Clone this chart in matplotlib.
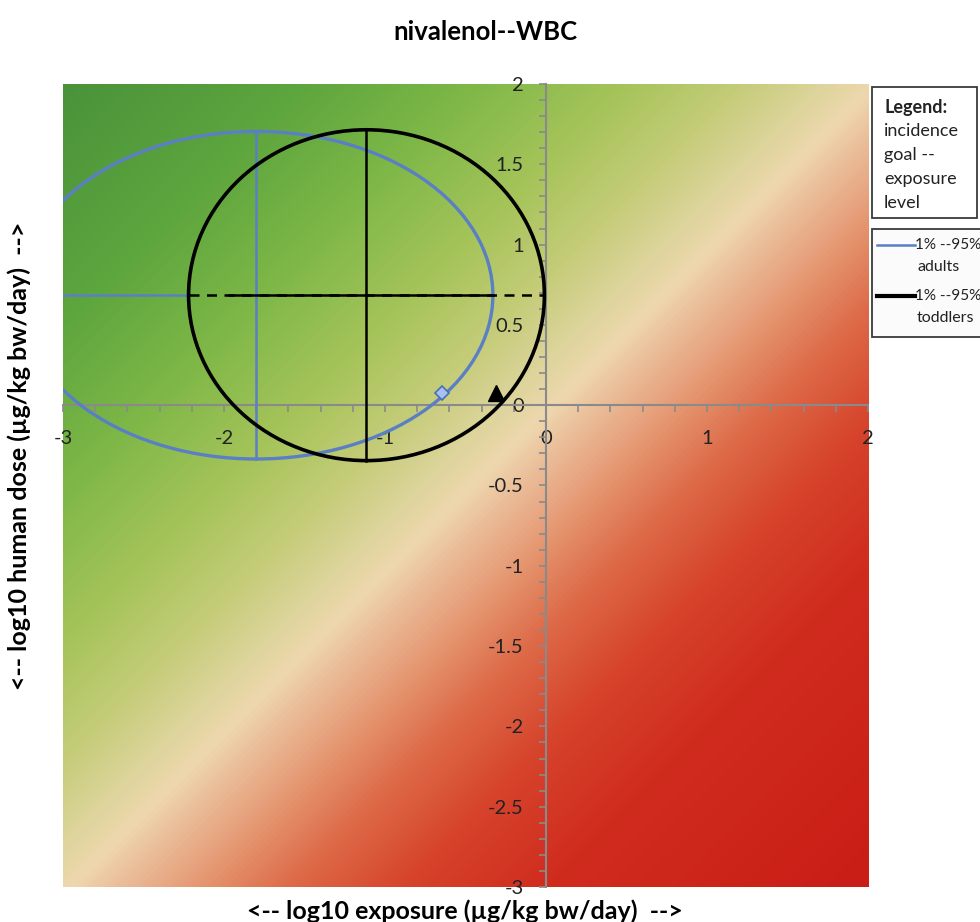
import matplotlib
matplotlib.use('Agg')
import matplotlib.pyplot as plt
import numpy as np
from matplotlib.patches import Ellipse, Rectangle
from matplotlib.lines import Line2D
from matplotlib.colors import LinearSegmentedColormap
from matplotlib.ticker import MultipleLocator, FormatStrFormatter

plt.rcParams['font.family'] = ['Lato', 'DejaVu Sans']
plt.rcParams['axes.unicode_minus'] = False

# 1% / median / 95% on each axis (log10 units)
adults_x = [-3.27, -1.80, -0.33]
adults_y = [-0.335, 0.685, 1.705]
toddlers_x = [-2.22, -1.115, -0.01]
toddlers_y = [-0.345, 0.685, 1.715]
# part of the toddlers' horizontal line drawn solid
toddlers_solid_x = [-1.97, -0.33]

# point estimates
adults_point = [-0.648, 0.073]
toddlers_point = [-0.31, 0.075]

# background shading against (exposure - dose)
shade_d = [-5, -3.5, -2.5, -1.5, -0.8, -0.3, 0.05, 0.4, 0.9, 1.4, 2.1, 3, 5]
shade_colors = ['#4a933a', '#5ea63e', '#7db747', '#a6c45a', '#c4cc78', '#dcd49a',
                '#eed7ae', '#eab895', '#e4926c', '#dd6a48', '#d6442c', '#d02c1e', '#c91d16']

x_ticks = [-3, -2, -1, 0, 1, 2]
y_ticks = [-3, -2.5, -2, -1.5, -1, -0.5, 0, 0.5, 1, 1.5, 2]

legend_title = 'Legend:'
legend_note = ['incidence', 'goal --', 'exposure', 'level']
series_labels = [('1% --95%', 'adults'), ('1% --95%', 'toddlers')]

blue = '#5b7fc4'

fig = plt.figure(figsize=(9.8, 9.22), dpi=100)
ax = fig.add_axes([63 / 980, 35 / 922, 805 / 980, 803 / 922])
ax.set_xlim(-3, 2)
ax.set_ylim(-3, 2)

# diagonal colour field
cmap = LinearSegmentedColormap.from_list(
    'risk', [((d - shade_d[0]) / (shade_d[-1] - shade_d[0]), c) for d, c in zip(shade_d, shade_colors)])
gx = np.linspace(-3, 2, 600)
gy = np.linspace(-3, 2, 600)
GX, GY = np.meshgrid(gx, gy)
D = np.clip((GX - GY - shade_d[0]) / (shade_d[-1] - shade_d[0]), 0, 1)
ax.imshow(cmap(D), extent=[-3, 2, -3, 2], origin='lower', aspect='auto', zorder=0)

# adults
ax.add_patch(Ellipse((adults_x[1], adults_y[1]), adults_x[2] - adults_x[0], adults_y[2] - adults_y[0],
                     fill=False, edgecolor=blue, lw=2.4, zorder=3))
ax.plot([adults_x[1], adults_x[1]], [adults_y[0], adults_y[2]], color=blue, lw=1.8, zorder=3)
ax.plot([adults_x[0], toddlers_x[0]], [adults_y[1], adults_y[1]], color=blue, lw=1.8, zorder=3)

# toddlers
ax.add_patch(Ellipse((toddlers_x[1], toddlers_y[1]), toddlers_x[2] - toddlers_x[0], toddlers_y[2] - toddlers_y[0],
                     fill=False, edgecolor='black', lw=2.6, zorder=4))
ax.plot([toddlers_x[1], toddlers_x[1]], [toddlers_y[0], toddlers_y[2]], color='black', lw=1.8, zorder=4)
ax.plot([toddlers_x[0], toddlers_x[2]], [toddlers_y[1], toddlers_y[1]], color='black', lw=1.8,
        ls=(0, (4, 3)), zorder=4)
ax.plot(toddlers_solid_x, [toddlers_y[1], toddlers_y[1]], color='black', lw=1.8, zorder=4)

ax.plot(*adults_point, marker='D', ms=7, mfc='#a9c1ef', mec='#4a6fb5', mew=1.2, zorder=5)
ax.plot(*toddlers_point, marker='^', ms=12, color='black', zorder=5)

# axes crossing at the origin
for side in ['top', 'right']:
    ax.spines[side].set_visible(False)
ax.spines['left'].set_position(('data', 0))
ax.spines['bottom'].set_position(('data', 0))
for side in ['left', 'bottom']:
    ax.spines[side].set_color('#8a8a8a')
    ax.spines[side].set_linewidth(1.5)
    ax.spines[side].set_zorder(2)

ax.set_xticks(x_ticks)
ax.set_yticks(y_ticks)
ax.xaxis.set_minor_locator(MultipleLocator(0.2))
ax.yaxis.set_minor_locator(MultipleLocator(0.1))
ax.yaxis.set_major_formatter(FormatStrFormatter('%g'))
ax.xaxis.set_major_formatter(FormatStrFormatter('%g'))
ax.tick_params(which='both', direction='out', color='#8a8a8a', length=5, width=1.2)
ax.tick_params(axis='x', labelsize=14.5, pad=13, labelcolor='#222222')
ax.tick_params(axis='y', labelsize=14.5, pad=11, labelcolor='#222222')

fig.text(0.495, 1 - 32 / 922, 'nivalenol--WBC', ha='center', va='center', fontsize=18.5, fontweight='bold')
fig.text(465 / 980, 1 - 911 / 922, '<-- log10 exposure (µg/kg bw/day)  -->', ha='center', va='center',
         fontsize=18, fontweight='bold')
fig.text(19 / 980, 1 - 456 / 922, '<-- log10 human dose (µg/kg bw/day)  -->', ha='center', va='center',
         fontsize=18, fontweight='bold', rotation=90)

# legend boxes to the right of the plot
fig.add_artist(Rectangle((872 / 980, 1 - 218 / 922), 105 / 980, 131 / 922, transform=fig.transFigure,
                         facecolor='white', edgecolor='#3a3a3a', lw=1.3))
fig.text(884 / 980, 1 - 107 / 922, legend_title, fontsize=13, fontweight='bold', va='center', color='#222222')
for i, line in enumerate(legend_note):
    fig.text(884 / 980, 1 - (131 + 24 * i) / 922, line, fontsize=13, va='center', color='#222222')

fig.add_artist(Rectangle((872 / 980, 1 - 337 / 922), 120 / 980, 108 / 922, transform=fig.transFigure,
                         facecolor='#fbfbfb', edgecolor='#3a3a3a', lw=1.3, clip_on=False))
legend_styles = [(blue, 1.8, 245), ('black', 3.0, 296)]
for (color, lw, ypix), (top_text, bottom_text) in zip(legend_styles, series_labels):
    fy = 1 - ypix / 922
    fig.add_artist(Line2D([877 / 980, 915 / 980], [fy, fy], transform=fig.transFigure, color=color, lw=lw))
    fig.text(915 / 980, fy, top_text, fontsize=11, va='center', color='#222222')
    fig.text(917 / 980, fy - 22 / 922, bottom_text, fontsize=11.5, va='center', color='#222222')

fig.savefig('out.png', dpi=100, facecolor='white')
